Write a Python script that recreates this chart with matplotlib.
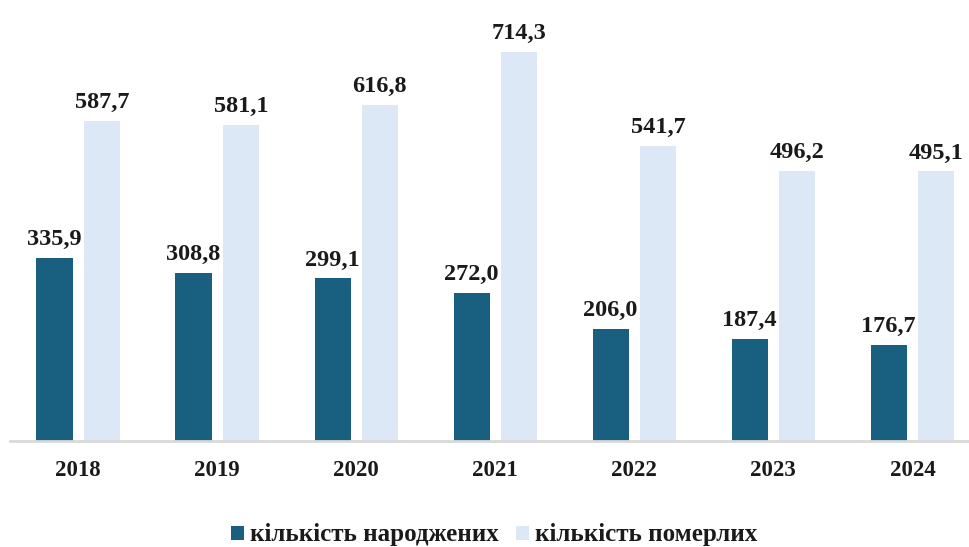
import matplotlib

matplotlib.use("Agg")
import matplotlib.pyplot as plt
import numpy as np

years = ["2018", "2019", "2020", "2021", "2022", "2023", "2024"]
born = [335.9, 308.8, 299.1, 272.0, 206.0, 187.4, 176.7]
died = [587.7, 581.1, 616.8, 714.3, 541.7, 496.2, 495.1]
labels = ["кількість народжених", "кількість померлих"]

plt.rcParams["font.family"] = ["Liberation Serif", "DejaVu Serif"]

fig = plt.figure(figsize=(9.69, 5.47), dpi=100)
ax = fig.add_axes([10 / 969, 1 - 441 / 547, 958 / 969, 435.7 / 547])

x = np.arange(len(years))
w = 0.26
off = 0.17
b1 = ax.bar(x - off, born, w, color="#195f80", label=labels[0])
b2 = ax.bar(x + off, died, w, color="#dce8f5", label=labels[1])

for bars, vals in ((b1, born), (b2, died)):
    for r, v in zip(bars, vals):
        ax.text(r.get_x() + r.get_width() / 2, v + 14, f"{v:.1f}".replace(".", ","),
                ha="center", va="bottom", fontsize=17.5, fontweight="bold", color="#1a1a1a")

ax.set_xlim(-0.49, 6.40)
ax.set_ylim(0, 800)
ax.set_xticks(x)
ax.set_xticklabels(years, fontsize=16.5, fontweight="bold", color="#1a1a1a")
ax.tick_params(axis="x", length=0, pad=14)
ax.set_yticks([])
for s in ("top", "right", "left"):
    ax.spines[s].set_visible(False)
ax.spines["bottom"].set_color("#d9d9d9")
ax.spines["bottom"].set_linewidth(2)

fig.legend(handles=[b1, b2], loc="center", bbox_to_anchor=(0.51, 1 - 535 / 547), ncol=2,
           frameon=False, prop={"size": 18, "weight": "bold"}, handlelength=0.5,
           handleheight=0.5, columnspacing=0.7, handletextpad=0.25,
           labelcolor="#1a1a1a")

fig.savefig("out.png", dpi=100)
